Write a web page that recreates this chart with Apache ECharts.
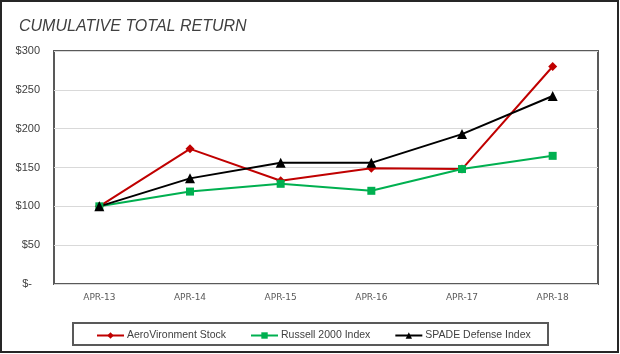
<!DOCTYPE html>
<html>
<head>
<meta charset="utf-8">
<script src="https://cdn.jsdelivr.net/npm/echarts@6/dist/echarts.min.js"></script>
<style>
    html, body {margin: 0; padding: 0; background: #fff;}
    #chart {width: 620px; height: 354px;}
</style>
</head>
<body>
<div id="chart"></div>
<script>
    // data
    const categories = ['APR-13', 'APR-14', 'APR-15', 'APR-16', 'APR-17', 'APR-18'];
    const aeroVironment = [100, 174, 133, 149, 148, 280];
    const russell2000 = [100, 119, 129, 120, 148, 165];
    const spadeDefense = [100, 136, 156, 156, 193, 242];
    const seriesNames = ['AeroVironment Stock', 'Russell 2000 Index', 'SPADE Defense Index'];

    const myChart = echarts.init(document.getElementById('chart'));

    const textColor = '#404040';
    const font = 'Liberation Sans, Arial, sans-serif';

    function lineSeries(name, data, color, symbol, size) {
        return {
            name: name,
            type: 'line',
            data: data,
            symbol: symbol,
            symbolSize: size,
            lineStyle: {color: color, width: 2},
            itemStyle: {color: color},
            animation: false
        };
    }

    const option = {
        backgroundColor: '#fff',
        title: {
            text: 'CUMULATIVE TOTAL RETURN',
            left: 14,
            top: 14,
            textStyle: {
                color: textColor,
                fontStyle: 'italic',
                fontWeight: 'normal',
                fontFamily: font,
                fontSize: 16
            }
        },
        legend: {
            data: seriesNames,
            left: 91,
            top: 325,
            itemWidth: 27,
            itemHeight: 8,
            itemGap: 24,
            textStyle: {color: textColor, fontFamily: font, fontSize: 10.5, padding: [0, 0, 0, -2]}
        },
        grid: {
            left: 54,
            right: 22,
            top: 51,
            bottom: 70,
            show: true,
            borderColor: '#595959',
            borderWidth: 2
        },
        xAxis: {
            type: 'category',
            data: categories,
            axisLine: {show: false},
            axisTick: {show: false},
            axisLabel: {
                color: '#595959',
                fontFamily: 'DejaVu Sans, sans-serif',
                fontSize: 9,
                margin: 9
            }
        },
        yAxis: {
            type: 'value',
            min: 0,
            max: 300,
            interval: 50,
            axisLine: {show: false},
            axisTick: {show: false},
            splitLine: {lineStyle: {color: '#d9d9d9', width: 1}},
            axisLabel: {
                color: textColor,
                fontFamily: font,
                fontSize: 11,
                margin: 14,
                formatter: function (v) {
                    return v === 0 ? '{z|$-}' : '$' + v;
                },
                rich: {
                    z: {color: textColor, fontFamily: font, fontSize: 11, padding: [0, 8, 0, 0]}
                }
            }
        },
        graphic: [
            {
                type: 'rect',
                shape: {x: 73, y: 323, width: 475, height: 22},
                style: {fill: null, stroke: '#595959', lineWidth: 2},
                silent: true
            },
            {
                type: 'rect',
                shape: {x: 1, y: 1, width: 617, height: 351},
                style: {fill: null, stroke: '#262626', lineWidth: 2},
                silent: true
            }
        ],
        series: [
            lineSeries(seriesNames[0], aeroVironment, '#c00000', 'diamond', 9),
            lineSeries(seriesNames[1], russell2000, '#00b050', 'rect', 8),
            lineSeries(seriesNames[2], spadeDefense, '#000000', 'triangle', 10)
        ]
    };

    myChart.setOption(option);
</script>
</body>
</html>
